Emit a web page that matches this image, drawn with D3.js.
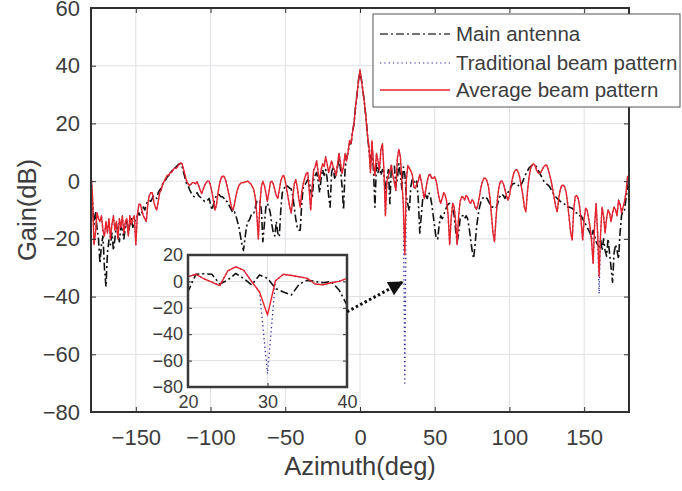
<!DOCTYPE html>
<html>
<head>
<meta charset="utf-8">
<title>Beam pattern</title>
<script src="https://cdn.jsdelivr.net/npm/d3@7"></script>
<style>
  body { margin: 0; background: #fff; }
  text { font-family: "Liberation Sans", Arial, sans-serif; fill: #3c3c3c; }
</style>
</head>
<body>
<div id="chart"></div>
<script>
var azimuth = d3.range(-180, 181, 1);

// gain in dB, one value per degree from -180 to 180
var mainAntenna = [
  0, -8, -15, -11, -16, -20, -28.5, -22, -19, -30,
  -36.6, -25, -20.4, -22, -18, -24, -20, -15, -18, -21,
  -15.8, -17, -20, -16, -14, -18, -15, -13, -16, -14,
  -13.5, -12, -11, -12, -11, -9, -10, -8, -7, -6.6,
  -7, -6, -5, -5.4, -6, -4, -3, -2.5, -1, 0,
  0.5, 1.5, 2, 3, 3.5, 4, 4.5, 5, 5.5, 6,
  6, 5, 3, 1, -1, -1.5, -3, -4, -5, -5.4,
  -4.8, -4, -5, -5.5, -6, -6.5, -7, -6.6, -6.6, -6,
  -8, -10, -8, -6, -5, -4.5, -4.8, -5.4, -5.4, -6,
  -7, -7, -8, -9, -10, -11, -10.6, -12, -14, -16,
  -19, -22, -24, -20, -16, -14, -13.5, -12, -11, -11,
  -9, -7, -6.6, -7, -10, -21, -15, -9, -7.7, -9,
  -11, -15, -18, -19, -14, -18, -19.3, -10, -4, -3,
  -1.4, -1.5, -2, -2.5, -2.7, -5, -9, -13, -16, -17,
  -17, -8, -2, -1.4, -0.5, 0.5, 0, -3, -6, 0.5,
  2, 3, 0, -4, 1, 4, 2, 4, 1, -5,
  -9, 3, 5, 1, 2, 5, 8, 4, -2, -10,
  4, 8, 10, 13, 13, 17, 20, 25.5, 30, 35,
  38, 35, 31, 27, 22, 16, 11, 5, 12, 4,
  -9, 6, 3, 5, 2, 4, 3, -4, 1, 4,
  -7.8, 5.4, 5.8, 5.4, -2, 1, 6, 2.3, -2.7, 4.9,
  2.3, -5.3, -8, -10.3, -2, 0.8, 0, -1, 0, -6.5,
  -18, -12, -6, -4, -5, -6, -4, -5, -8, -12,
  -16, -20, -20, -15, -12, -13, -12, -10, -9, -8,
  -7.7, -8, -8, -12, -17, -21, -18, -13, -12, -12,
  -13, -12, -13, -16, -20, -24, -26.8, -22, -16, -12,
  -9, -7, -6, -5.4, -5.5, -6, -7, -8, -9, -9,
  -9.4, -9.4, -8, -6, -5, -4.5, -5, -6, -5, -4,
  -3, -2, -1, -0.8, -0.7, -1, -1.5, -2, -1, 0,
  1.5, 2.5, 3.5, 4.5, 5, 5.5, 5.5, 5.5, 5, 4,
  3, 2, 1, 0, -0.5, -1, -1.4, -2, -3, -4,
  -5, -5.5, -6, -6.5, -7, -7.5, -7.7, -8, -8.5, -9,
  -9, -9.2, -9.4, -10, -11, -11, -12, -12, -12, -13,
  -14, -15, -16, -17, -18, -20, -17, -19, -21, -22,
  -22.8, -20, -24, -20, -24, -26, -20, -25, -30, -35,
  -25, -22, -24, -27, -18, -12, -10, -10, -6, -2, 0
];

var averageBeam = [
  3, -5, -22, -18, -11, -13, -14, -12, -17, -19,
  -14, -18, -13, -20, -15, -12, -17, -14, -20, -13,
  -16, -12, -18, -14, -13, -19, -12, -15, -13, -12,
  -22, -12, -8, -8, -10, -12, -13, -14, -8, -5,
  -4, -4, -7, -9, -10, -7, -4, -3, -1, 0,
  1, 2, 2, 3, 3, 4, 4.5, 4.5, 5, 6,
  6.3, 6, 4, 2, 0, -1, -1.5, -1, -0.5, -0.5,
  -1, -0.2, -1.5, -3, -4.3, -3, -1.5, -0.5, 0, 0,
  -1.5, -4, -7, -10, -8, -4, -1, 1, 1.7, 1.7,
  0.5, -1.5, -4, -6.5, -9, -10, -8, -5, -3, -1.5,
  -0.8, -0.5, -0.5, -0.3, -0.2, 0, -0.5, -1, -2, -3,
  -6, -12, -20, -8, -2, 0, -1.5, -4, -7, -4,
  -0.5, 0, -1, -3, -5, -6, -3, 0, 1.5, 2,
  0, -3, -6, -9, -11, -6, -1, 0.5, -2, -6,
  -9, -4, -1, 1, 2.7, 3, -3, -10, -2, 3.8,
  5, 7, 3, 0, 4, 6, 5, 8.4, 6, 3,
  5, 7, 5, 3.8, 2, 6, 9.6, 6, 2.7, 5,
  9.6, 7, 10, 14, 13, 17, 20, 25.7, 30, 35,
  38.5, 35, 31, 27, 22, 16, 12, 3, 14, 6,
  2, 9.6, 7, 4, 11, 13, 4, -12, 0, 2,
  3.6, 5.4, 2, -0.5, -3.2, 7.9, 11, 8.6, 0, -8,
  -25.5, 0.5, 5.4, 4.5, 3.5, 2.3, -2, -2.5, -1, 0,
  2.3, 0, -3, -6, -3, 0, 2, 2.4, 1, 1,
  1.5, 0, -3, -6, -7.7, -6, -4, -4.8, -7, -12,
  -22, -13, -7.7, -9, -14, -22, -12, -7, -5.4, -5.5,
  -6.5, -5, -5.5, -7, -7.7, -6.5, -7, -9, -9.8, -8,
  -5, -2, 0, 1, 1, 0, -2, -6, -12, -18,
  -21, -13, -6, -2, 0, 0, -1, -3, -5, -6.6,
  -5, -2, 1, 3, 3.8, 4, 3, 1, -2, -5,
  -9, -10.6, -4, 1, 4, 5.5, 6, 5.5, 4, 3,
  2.7, 3, 4, 5, 5.5, 5.5, 4, 2, 0, -3,
  -6, -9, -10.6, -6, -3, -1.5, -1.4, -2, -4, -8,
  -13, -18, -20.4, -10, -5.4, -5, -6, -9, -14, -20.4,
  -13, -9.4, -10, -13, -16, -21, -28.5, -15, -7.7, -18,
  -33, -18, -9, -12, -18, -13, -10, -11, -14, -11,
  -9, -10, -12, -6.6, -8, -11, -9, -7, -4, 1.5, 2
];

// the traditional pattern sits under the average one except at its deep nulls
var traditionalNulls = [[30, -70], [160, -39]];

var seriesNames = ["Main antenna", "Traditional beam pattern", "Average beam pattern"];
var xTicks = [-150, -100, -50, 0, 50, 100, 150];
var yTicks = [-80, -60, -40, -20, 0, 20, 40, 60];
var insetXTicks = [20, 30, 40];
var insetYTicks = [-80, -60, -40, -20, 0, 20];

var traditionalBeam = averageBeam.slice();
traditionalNulls.forEach(function (n) { traditionalBeam[n[0] + 180] = n[1]; });

function toPoints(vals) {
  return azimuth.map(function (a, i) { return { x: a, y: vals[i] }; });
}

var series = [
  { name: seriesNames[0], pts: toPoints(mainAntenna), color: "#111111", width: 1.6, dash: "8,3,2,3" },
  { name: seriesNames[1], pts: toPoints(traditionalBeam), color: "#2a2aa0", width: 1.3, dash: "1.3,3" },
  { name: seriesNames[2], pts: toPoints(averageBeam), color: "#e8232b", width: 1.4, dash: null }
];

var outerWidth = 682, outerHeight = 491;
var margin = { left: 91, top: 8, right: 53, bottom: 79 };
var innerWidth = outerWidth - margin.left - margin.right;
var innerHeight = outerHeight - margin.top - margin.bottom;
var axisColor = "#303030", labelColor = "#404040", gridColor = "#dfdfe5";

var svg = d3.select("#chart").append("svg")
    .attr("width", outerWidth)
    .attr("height", outerHeight);

var x = d3.scaleLinear().domain([-180, 180]).range([0, innerWidth]);
var y = d3.scaleLinear().domain([-80, 60]).range([innerHeight, 0]);

var defs = svg.append("defs");
defs.append("clipPath").attr("id", "clipMain").append("rect")
    .attr("width", innerWidth).attr("height", innerHeight);

var g = svg.append("g")
    .attr("transform", "translate(" + margin.left + "," + margin.top + ")");

// grid
g.selectAll(".gx").data(xTicks).enter().append("line")
    .attr("x1", x).attr("x2", x).attr("y1", 0).attr("y2", innerHeight)
    .attr("stroke", gridColor).attr("stroke-width", 1);
g.selectAll(".gy").data(yTicks).enter().append("line")
    .attr("y1", y).attr("y2", y).attr("x1", 0).attr("x2", innerWidth)
    .attr("stroke", gridColor).attr("stroke-width", 1);

var line = d3.line().x(function (d) { return x(d.x); }).y(function (d) { return y(d.y); });

var plot = g.append("g").attr("clip-path", "url(#clipMain)");
series.forEach(function (s) {
  plot.append("path")
      .attr("d", line(s.pts))
      .attr("fill", "none")
      .attr("stroke", s.color)
      .attr("stroke-width", s.width)
      .attr("stroke-dasharray", s.dash)
      .attr("stroke-linejoin", "round");
});

function styleAxis(sel, size) {
  sel.select(".domain").remove();
  sel.selectAll(".tick line").attr("stroke", axisColor).attr("stroke-width", 1);
  sel.selectAll(".tick text").attr("fill", labelColor).style("font-size", size + "px")
      .style("font-family", "'Liberation Sans', Arial, sans-serif");
}
function ticksOnly(sel) {
  sel.select(".domain").remove();
  sel.selectAll(".tick text").remove();
  sel.selectAll(".tick line").attr("stroke", axisColor).attr("stroke-width", 1);
}

g.append("g").attr("transform", "translate(0," + innerHeight + ")")
    .call(d3.axisBottom(x).tickValues(xTicks).tickSize(-5).tickPadding(17).tickFormat(d3.format("d")))
    .call(styleAxis, 22);
g.append("g")
    .call(d3.axisTop(x).tickValues(xTicks).tickSize(-5))
    .call(ticksOnly);
g.append("g")
    .call(d3.axisLeft(y).tickValues(yTicks).tickSize(-5).tickPadding(11).tickFormat(d3.format("d")))
    .call(styleAxis, 22);
g.append("g").attr("transform", "translate(" + innerWidth + ",0)")
    .call(d3.axisRight(y).tickValues(yTicks).tickSize(-5))
    .call(ticksOnly);

g.append("rect")
    .attr("width", innerWidth).attr("height", innerHeight)
    .attr("fill", "none").attr("stroke", axisColor).attr("stroke-width", 2);

// axis labels
svg.append("text")
    .text("Azimuth(deg)")
    .attr("x", margin.left + innerWidth / 2)
    .attr("y", 475)
    .attr("text-anchor", "middle")
    .attr("fill", labelColor)
    .style("font-size", "25.5px");
svg.append("text")
    .text("Gain(dB)")
    .attr("transform", "translate(36," + (margin.top + innerHeight / 2) + ") rotate(-90)")
    .attr("text-anchor", "middle")
    .attr("fill", labelColor)
    .style("font-size", "25.5px");

// inset zoom on 20..40 deg
var inset = { left: 188, top: 255, width: 159, height: 132 };
var xi = d3.scaleLinear().domain([20, 40]).range([0, inset.width]);
var yi = d3.scaleLinear().domain([-80, 20]).range([inset.height, 0]);

defs.append("clipPath").attr("id", "clipInset").append("rect")
    .attr("width", inset.width).attr("height", inset.height);

var gi = svg.append("g")
    .attr("transform", "translate(" + inset.left + "," + inset.top + ")");

gi.append("rect").attr("width", inset.width).attr("height", inset.height).attr("fill", "#fff");
gi.selectAll(".gx").data(insetXTicks).enter().append("line")
    .attr("x1", xi).attr("x2", xi).attr("y1", 0).attr("y2", inset.height)
    .attr("stroke", gridColor);
gi.selectAll(".gy").data(insetYTicks).enter().append("line")
    .attr("y1", yi).attr("y2", yi).attr("x1", 0).attr("x2", inset.width)
    .attr("stroke", gridColor);

var lineInset = d3.line().x(function (d) { return xi(d.x); }).y(function (d) { return yi(d.y); });
var plotInset = gi.append("g").attr("clip-path", "url(#clipInset)");
series.forEach(function (s) {
  var pts = s.pts.filter(function (d) { return d.x >= 19 && d.x <= 41; });
  plotInset.append("path")
      .attr("d", lineInset(pts))
      .attr("fill", "none")
      .attr("stroke", s.color)
      .attr("stroke-width", s.width)
      .attr("stroke-dasharray", s.dash)
      .attr("stroke-linejoin", "round");
});

gi.append("g").attr("transform", "translate(0," + inset.height + ")")
    .call(d3.axisBottom(xi).tickValues(insetXTicks).tickSize(-4).tickPadding(8))
    .call(styleAxis, 18);
gi.append("g")
    .call(d3.axisLeft(yi).tickValues(insetYTicks).tickSize(-4).tickPadding(5))
    .call(styleAxis, 18);
gi.append("g").attr("transform", "translate(" + inset.width + ",0)")
    .call(d3.axisRight(yi).tickValues(insetYTicks).tickSize(-4))
    .call(ticksOnly);
gi.append("rect")
    .attr("width", inset.width).attr("height", inset.height)
    .attr("fill", "none").attr("stroke", "#3a3a3a").attr("stroke-width", 2.5);

// arrow from the inset to the null at 30 deg
defs.append("marker")
    .attr("id", "head")
    .attr("viewBox", "0 0 10 10")
    .attr("refX", 9).attr("refY", 5)
    .attr("markerWidth", 6).attr("markerHeight", 5)
    .attr("orient", "auto")
    .attr("markerUnits", "strokeWidth")
  .append("path").attr("d", "M0,0L10,5L0,10Z").attr("fill", "#111");

svg.append("line")
    .attr("x1", inset.left + xi(40)).attr("y1", inset.top + yi(-23))
    .attr("x2", margin.left + x(28.3)).attr("y2", margin.top + y(-35))
    .attr("stroke", "#111").attr("stroke-width", 3)
    .attr("stroke-dasharray", "2.5,2.5")
    .attr("marker-end", "url(#head)");

// legend
var legend = svg.append("g").attr("transform", "translate(373,14)");
legend.append("rect")
    .attr("width", 307).attr("height", 93)
    .attr("fill", "#fff").attr("stroke", "#555").attr("stroke-width", 1);
var rowY = [20, 49, 76];
series.forEach(function (s, i) {
  legend.append("line")
      .attr("x1", 7).attr("x2", 77).attr("y1", rowY[i]).attr("y2", rowY[i])
      .attr("stroke", i === 0 ? "#444" : s.color)
      .attr("stroke-width", i === 1 ? 1.2 : 1.5)
      .attr("stroke-dasharray", s.dash);
  legend.append("text")
      .text(s.name)
      .attr("x", 83).attr("y", rowY[i] + 7)
      .attr("fill", "#262626")
      .style("font-size", "20.5px");
});
</script>
</body>
</html>
